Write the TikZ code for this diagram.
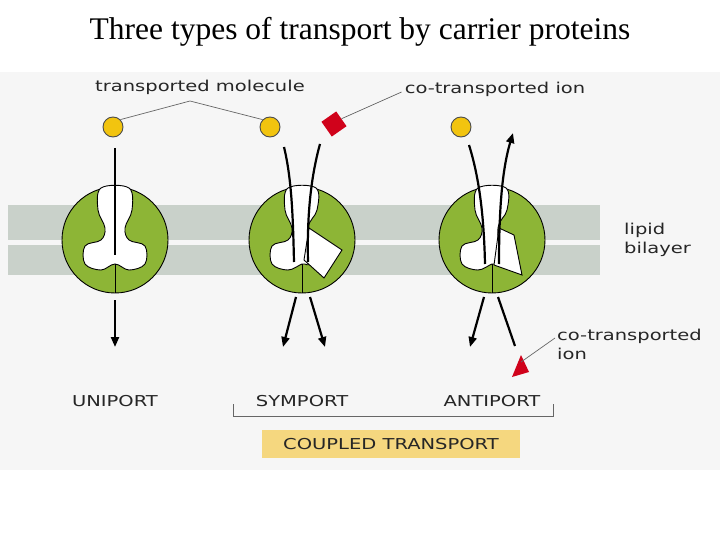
\documentclass[tikz,border=0pt]{standalone}
\usepackage{fontspec}
\setmainfont{Liberation Serif}
\newfontfamily\lab[FakeStretch=1.3]{DejaVu Sans}
\usetikzlibrary{arrows.meta}
\definecolor{memb}{HTML}{C9D1CA}
\definecolor{prot}{HTML}{8DB536}
\definecolor{mol}{HTML}{F2C40F}
\definecolor{ionred}{HTML}{D0021B}
\definecolor{boxy}{HTML}{F5D77F}
\definecolor{panel}{HTML}{F6F6F6}
\tikzset{
 lbl/.style={font=\lab\fontsize{15}{19}\selectfont, inner sep=0pt, text=black!85},
 molc/.style={circle, fill=mol, draw=black!70, line width=0.9pt, minimum size=20pt, inner sep=0pt},
 flow/.style={line width=2.2pt, -{Triangle[length=10pt,width=8pt]}},
 flowp/.style={line width=2.2pt},
 ptr/.style={draw=black!60, line width=0.7pt},
 protein/.style={fill=prot, draw=black, line width=0.9pt},
 cav/.style={fill=white, draw=black, line width=0.9pt},
}
\begin{document}
\begin{tikzpicture}[x=1pt,y=-1pt]
\useasboundingbox (0,0) rectangle (720,540);
\fill[white] (0,0) rectangle (720,540);
\fill[panel] (0,72) rectangle (720,470);
\fill[memb] (8,205) rectangle (600,240);
\fill[memb] (8,245) rectangle (600,275);
\node[font=\fontsize{31.5}{36}\selectfont] (title) at (360,32) {Three types of transport by carrier proteins};

% proteins
\foreach \cx in {115,302,492}{
  \fill[protein] (\cx,240) circle (53);
}
% uniport cavity
\begin{scope}[shift={(115,240)}]
\draw[cav] plot[smooth cycle, tension=0.6] coordinates {(-14,-52) (-17,-30) (-10,-12) (-14,0) (-30,6) (-30,24) (-14,30) (0,24) (14,30) (30,24) (30,6) (14,0) (10,-12) (17,-30) (14,-52)};
\draw[line width=0.9pt] (0,24) -- (0,53);
\end{scope}
% symport cavity
\begin{scope}[shift={(302,240)}]
\draw[cav] plot[smooth cycle, tension=0.6] coordinates {(-14,-52) (-17,-30) (-10,-12) (-14,0) (-30,6) (-30,24) (-14,30) (0,24) (8,22) (6,-12) (15,-30) (14,-52)};
\draw[cav] (2,20) -- (7,-12) -- (40,10) -- (22,38) -- cycle;
\draw[line width=0.9pt] (0,24) -- (0,53);
\end{scope}
% antiport cavity
\begin{scope}[shift={(492,240)}]
\draw[cav] plot[smooth cycle, tension=0.6] coordinates {(-14,-52) (-17,-30) (-10,-12) (-14,0) (-30,6) (-30,24) (-14,30) (0,24) (8,22) (6,-12) (15,-30) (14,-52)};
\draw[cav] (2,25) -- (7,-12) -- (22,-5) -- (30,35) -- cycle;
\draw[line width=0.9pt] (0,24) -- (0,53);
\end{scope}

% molecules and ion
\node[molc] (m1) at (113,127) {};
\node[molc] (m2) at (270,127) {};
\node[molc] (m3) at (461,127) {};
\node[fill=ionred, minimum size=18pt, inner sep=0pt, rotate=35] (ion) at (334,124) {};

% labels
\node[lbl] (tm) at (200,87) {transported molecule};
\node[lbl] (ct) at (495,89) {co-transported ion};
\node[lbl, align=left, anchor=west] (ct2) at (557,344) {co-transported\\ion};
\node[lbl, align=left, anchor=west] (lb) at (624,240) {lipid\\bilayer};
\node[lbl] (uni) at (115,401) {UNIPORT};
\node[lbl] (sym) at (302,401) {SYMPORT};
\node[lbl] (anti) at (492,401) {ANTIPORT};
\node[fill=boxy, minimum width=258pt, minimum height=28pt, inner sep=0pt] (cbox) at (391,444) {};
\node[lbl] (cl) at (cbox) {COUPLED TRANSPORT};

\coordinate (apex) at (190,101);
\draw[ptr] (m1.north east) -- (apex) -- (m2.north west);
\draw[ptr] (ct.west) ++(-3,3) -- (ion.east);
\coordinate (bl) at (233,404); \coordinate (br) at (553,404);
\draw[draw=black!60, line width=1pt] (bl) -- ++(0,12) -| (br);

% red triangle
\fill[ionred] (512,377) -- (529,372) -- (521,355) -- cycle;
\draw[ptr] (ct2.west) ++(-2,-6) -- (521,362);

% uniport flows
\coordinate (u1) at (115,148); \coordinate (u2) at (115,255);
\draw[flowp] (u1) -- (u2);
\draw[flow] (115,300) -- (115,347);
% symport flows
\draw[flowp] (284,147) .. controls (292,180) and (293,220) .. (294,262);
\draw[flowp] (320,144) .. controls (310,180) and (307,220) .. (308,262);
\draw[flow] (296,297) -- (283,347);
\draw[flow] (310,297) -- (325,347);
% antiport flows
\draw[flowp] (469,145) .. controls (480,180) and (484,220) .. (485,264);
\draw[flow] (499,264) .. controls (499,210) and (502,170) .. (513,133);
\draw[flow] (484,297) -- (470,347);
\draw[flowp] (498,297) -- (515,346);
\end{tikzpicture}
\end{document}
